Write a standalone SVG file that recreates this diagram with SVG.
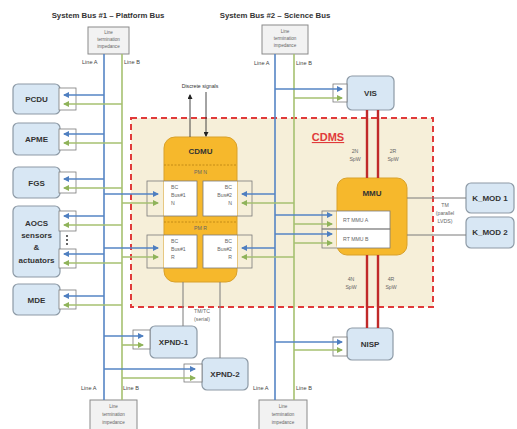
<svg xmlns="http://www.w3.org/2000/svg" width="517" height="429" viewBox="0 0 517 429">
<defs>
<marker id="ab" markerWidth="6" markerHeight="6" refX="5" refY="3" orient="auto" markerUnits="userSpaceOnUse"><path d="M0,0 L6,3 L0,6 z" fill="#4f7fc0"/></marker>
<marker id="ag" markerWidth="6" markerHeight="6" refX="5" refY="3" orient="auto" markerUnits="userSpaceOnUse"><path d="M0,0 L6,3 L0,6 z" fill="#8fb35a"/></marker>
<marker id="ak" markerWidth="5" markerHeight="5" refX="4" refY="2.5" orient="auto" markerUnits="userSpaceOnUse"><path d="M0,0 L5,2.5 L0,5 z" fill="#222"/></marker>
</defs>
<style>
text{font-family:"Liberation Sans",Arial,sans-serif;}
.title{font-size:7.8px;font-weight:bold;fill:#333;text-anchor:middle;}
.node{fill:#d8e7f4;stroke:#8d9aa6;stroke-width:1.2;}
.nl{font-size:8px;font-weight:bold;fill:#333;text-anchor:middle;}
.port{fill:none;stroke:#7a7a7a;stroke-width:0.8;}
.pf{fill:#ffffff;stroke:#7a7a7a;stroke-width:0.8;}
.white{fill:#ffffff;stroke:none;}
.term{fill:#f2f2f2;stroke:#8a8a8a;stroke-width:1;}
.tt{font-size:4.6px;fill:#666;text-anchor:middle;}
.ll{font-size:5.6px;fill:#444;}
.bl{stroke:#5585c5;stroke-width:1.6;fill:none;}
.gl{stroke:#a6c170;stroke-width:1.6;fill:none;}
.gr{stroke:#7a7a7a;stroke-width:1;fill:none;}
.rd{stroke:#c02a2a;stroke-width:2.4;fill:none;}
.unit{fill:#f6b82c;stroke:#d9a12a;stroke-width:1;}
.sm{font-size:5.2px;fill:#666;}
.smc{font-size:5.2px;fill:#666;text-anchor:middle;}
</style>

<!-- CDMS area -->
<g id="cdms">
<rect x="131" y="118" width="302" height="189" fill="#f6efd9" stroke="#e03a3a" stroke-width="2" stroke-dasharray="6,4"/>
<text x="328" y="141" font-size="11" font-weight="bold" fill="#e03a3a" text-anchor="middle" text-decoration="underline">CDMS</text>
</g>

<!-- titles -->
<text class="title" x="108" y="18">System Bus #1 – Platform Bus</text>
<text class="title" x="275" y="18">System Bus #2 – Science Bus</text>

<text class="smc" x="200" y="88" style="fill:#333">Discrete signals</text>
<text class="smc" x="202" y="313">TM/TC</text>
<text class="smc" x="202" y="321">(serial)</text>
<text class="smc" x="355" y="153">2N</text>
<text class="smc" x="355" y="161">SpW</text>
<text class="smc" x="393" y="153">2R</text>
<text class="smc" x="393" y="161">SpW</text>
<text class="smc" x="351" y="281">4N</text>
<text class="smc" x="351" y="289">SpW</text>
<text class="smc" x="391" y="281">4R</text>
<text class="smc" x="391" y="289">SpW</text>
<text class="smc" x="445" y="207">TM</text>
<text class="smc" x="445" y="215">(parallel</text>
<text class="smc" x="445" y="223">LVDS)</text>

<!-- terminations -->
<g id="term1top"><rect class="term" x="88" y="27" width="41" height="27"/><text class="tt" x="108.5" y="34">Line</text><text class="tt" x="108.5" y="41">termination</text><text class="tt" x="108.5" y="48">impedance</text></g>
<g id="term2top"><rect class="term" x="262" y="25" width="46" height="29"/><text class="tt" x="285" y="33">Line</text><text class="tt" x="285" y="40">termination</text><text class="tt" x="285" y="47">impedance</text></g>
<g id="term1bot"><rect class="term" x="90" y="400" width="47" height="32"/><text class="tt" x="113.5" y="408">Line</text><text class="tt" x="113.5" y="416">termination</text><text class="tt" x="113.5" y="424">impedance</text></g>
<g id="term2bot"><rect class="term" x="259" y="400" width="48" height="32"/><text class="tt" x="283" y="408">Line</text><text class="tt" x="283" y="416">termination</text><text class="tt" x="283" y="424">impedance</text></g>
<text class="ll" x="82" y="64">Line A</text><text class="ll" x="124" y="64">Line B</text>
<text class="ll" x="254" y="65">Line A</text><text class="ll" x="296" y="65">Line B</text>
<text class="ll" x="81" y="390">Line A</text><text class="ll" x="123" y="390">Line B</text>
<text class="ll" x="253" y="390">Line A</text><text class="ll" x="296" y="390">Line B</text>

<!-- left nodes -->
<g id="pcdu"><rect class="node" x="13" y="84" width="47" height="30" rx="5"/><rect class="pf" x="59" y="88" width="17" height="22"/><text class="nl" x="36.5" y="102">PCDU</text></g>
<g id="apme"><rect class="node" x="13" y="123" width="47" height="32" rx="5"/><rect class="pf" x="59" y="129" width="17" height="21"/><text class="nl" x="36.5" y="142">APME</text></g>
<g id="fgs"><rect class="node" x="13" y="167" width="47" height="31" rx="5"/><rect class="pf" x="59" y="172" width="17" height="21"/><text class="nl" x="36.5" y="185.5">FGS</text></g>
<g id="aocs"><rect class="node" x="13" y="206" width="47" height="71" rx="5"/><rect class="pf" x="59" y="211" width="17" height="20"/><rect class="pf" x="59" y="249" width="17" height="19"/>
<circle cx="67" cy="236" r="1" fill="#333"/><circle cx="67" cy="240" r="1" fill="#333"/><circle cx="67" cy="244" r="1" fill="#333"/>
<text class="nl" x="36.5" y="226">AOCS</text><text class="nl" x="36.5" y="238" font-size="7.2">sensors</text><text class="nl" x="36.5" y="250">&amp;</text><text class="nl" x="36.5" y="263" font-size="7.2">actuators</text></g>
<g id="mde"><rect class="node" x="13" y="284" width="47" height="31" rx="5"/><rect class="pf" x="59" y="290" width="17" height="19"/><text class="nl" x="36.5" y="303">MDE</text></g>

<!-- XPND -->
<g id="xpnd1"><rect class="node" x="150" y="326" width="47" height="32" rx="5"/><rect class="pf" x="133" y="330" width="17" height="19"/><text class="nl" x="173.5" y="345">XPND-1</text></g>
<g id="xpnd2"><rect class="node" x="202" y="358" width="46" height="32" rx="5"/><rect class="pf" x="184" y="364" width="18" height="18"/><text class="nl" x="225" y="377">XPND-2</text></g>

<!-- CDMU -->
<g id="cdmu">
<rect class="unit" x="164" y="137" width="73" height="145" rx="11"/>
<text class="nl" x="200.5" y="154" font-size="7.4">CDMU</text>
<line x1="164" y1="165" x2="237" y2="165" stroke="#b9800f" stroke-width="0.8" stroke-dasharray="2,1.5"/>
<text class="smc" x="200.5" y="174">PM N</text>
<line x1="164" y1="222" x2="237" y2="222" stroke="#b9800f" stroke-width="0.8" stroke-dasharray="2,1.5"/>
<text class="smc" x="200.5" y="230">PM R</text>
<g id="bc1n"><rect class="white" x="164" y="181" width="33" height="35"/><rect class="port" x="147" y="181" width="50" height="35"/><text class="sm" x="171" y="189">BC</text><text class="sm" x="171" y="197">Bus#1</text><text class="sm" x="171" y="205">N</text></g>
<g id="bc2n"><rect class="white" x="203" y="181" width="34" height="35"/><rect class="port" x="203" y="181" width="49" height="35"/><text class="sm" x="232" y="189" text-anchor="end">BC</text><text class="sm" x="232" y="197" text-anchor="end">Bus#2</text><text class="sm" x="232" y="205" text-anchor="end">N</text></g>
<g id="bc1r"><rect class="white" x="164" y="235" width="33" height="33"/><rect class="port" x="147" y="235" width="50" height="33"/><text class="sm" x="171" y="243">BC</text><text class="sm" x="171" y="251">Bus#1</text><text class="sm" x="171" y="259">R</text></g>
<g id="bc2r"><rect class="white" x="203" y="235" width="34" height="33"/><rect class="port" x="203" y="235" width="49" height="33"/><text class="sm" x="232" y="243" text-anchor="end">BC</text><text class="sm" x="232" y="251" text-anchor="end">Bus#2</text><text class="sm" x="232" y="259" text-anchor="end">R</text></g>
</g>

<!-- MMU -->
<g id="mmu">
<rect class="unit" x="337" y="178" width="70" height="77" rx="10"/>
<text class="nl" x="372" y="196" font-size="7">MMU</text>
<rect class="white" x="337" y="211" width="53" height="37"/>
<rect class="port" x="322" y="211" width="68" height="18"/>
<rect class="port" x="322" y="229" width="68" height="19"/>
<text class="sm" x="343" y="222">RT MMU A</text>
<text class="sm" x="343" y="241">RT MMU B</text>
</g>

<!-- right nodes -->
<g id="vis"><rect class="node" x="347" y="76" width="47" height="34" rx="5"/><rect class="pf" x="333" y="84" width="14" height="18"/><text class="nl" x="370.5" y="96">VIS</text></g>
<g id="nisp"><rect class="node" x="347" y="328" width="46" height="32" rx="5"/><rect class="pf" x="333" y="337" width="14" height="19"/><text class="nl" x="370" y="347">NISP</text></g>
<g id="kmod1"><rect class="node" x="466" y="183" width="48" height="30" rx="5"/><text class="nl" x="490" y="201">K_MOD 1</text></g>
<g id="kmod2"><rect class="node" x="466" y="217" width="48" height="31" rx="5"/><text class="nl" x="490" y="235">K_MOD 2</text></g>

<g id="connectors">
<!-- bus lines -->
<line class="bl" x1="104" y1="54" x2="104" y2="400"/>
<line class="gl" x1="122" y1="54" x2="122" y2="400"/>
<line class="bl" x1="275" y1="54" x2="275" y2="400"/>
<line class="gl" x1="294" y1="54" x2="294" y2="400"/>
<!-- left nodes -->
<line class="bl" x1="104" y1="95" x2="64" y2="95" marker-end="url(#ab)"/>
<line class="gl" x1="122" y1="104" x2="64" y2="104" marker-end="url(#ag)"/>
<line class="bl" x1="104" y1="134" x2="64" y2="134" marker-end="url(#ab)"/>
<line class="gl" x1="122" y1="143" x2="64" y2="143" marker-end="url(#ag)"/>
<line class="bl" x1="104" y1="179" x2="64" y2="179" marker-end="url(#ab)"/>
<line class="gl" x1="122" y1="188" x2="64" y2="188" marker-end="url(#ag)"/>
<line class="bl" x1="104" y1="216" x2="64" y2="216" marker-end="url(#ab)"/>
<line class="gl" x1="122" y1="225" x2="64" y2="225" marker-end="url(#ag)"/>
<line class="bl" x1="104" y1="254" x2="64" y2="254" marker-end="url(#ab)"/>
<line class="gl" x1="122" y1="263" x2="64" y2="263" marker-end="url(#ag)"/>
<line class="bl" x1="104" y1="296" x2="64" y2="296" marker-end="url(#ab)"/>
<line class="gl" x1="122" y1="305" x2="64" y2="305" marker-end="url(#ag)"/>
<!-- XPND -->
<line class="bl" x1="104" y1="336" x2="143" y2="336" marker-end="url(#ab)"/>
<line class="gl" x1="122" y1="345" x2="143" y2="345" marker-end="url(#ag)"/>
<line class="bl" x1="104" y1="369" x2="195" y2="369" marker-end="url(#ab)"/>
<line class="gl" x1="122" y1="378" x2="195" y2="378" marker-end="url(#ag)"/>
<!-- BC bus #1 -->
<line class="bl" x1="104" y1="194" x2="158" y2="194" marker-end="url(#ab)"/>
<line class="gl" x1="122" y1="203" x2="158" y2="203" marker-end="url(#ag)"/>
<line class="bl" x1="104" y1="248" x2="158" y2="248" marker-end="url(#ab)"/>
<line class="gl" x1="122" y1="257" x2="158" y2="257" marker-end="url(#ag)"/>
<!-- BC bus #2 -->
<line class="bl" x1="275" y1="194" x2="242" y2="194" marker-end="url(#ab)"/>
<line class="gl" x1="294" y1="203" x2="242" y2="203" marker-end="url(#ag)"/>
<line class="bl" x1="275" y1="248" x2="242" y2="248" marker-end="url(#ab)"/>
<line class="gl" x1="294" y1="257" x2="242" y2="257" marker-end="url(#ag)"/>
<!-- VIS / MMU / NISP -->
<line class="bl" x1="275" y1="89" x2="342" y2="89" marker-end="url(#ab)"/>
<line class="gl" x1="294" y1="98" x2="342" y2="98" marker-end="url(#ag)"/>
<line class="bl" x1="275" y1="215" x2="332" y2="215" marker-end="url(#ab)"/>
<line class="gl" x1="294" y1="224" x2="332" y2="224" marker-end="url(#ag)"/>
<line class="bl" x1="275" y1="234" x2="332" y2="234" marker-end="url(#ab)"/>
<line class="gl" x1="294" y1="243" x2="332" y2="243" marker-end="url(#ag)"/>
<line class="bl" x1="275" y1="342" x2="342" y2="342" marker-end="url(#ab)"/>
<line class="gl" x1="294" y1="350" x2="342" y2="350" marker-end="url(#ag)"/>
<!-- SpaceWire -->
<line class="rd" x1="367" y1="110" x2="367" y2="178"/>
<line class="rd" x1="378" y1="110" x2="378" y2="178"/>
<line class="rd" x1="367" y1="255" x2="367" y2="328"/>
<line class="rd" x1="378" y1="255" x2="378" y2="328"/>
<!-- TM LVDS -->
<line class="gr" x1="407" y1="198" x2="466" y2="198"/>
<line class="gr" x1="407" y1="235" x2="466" y2="235"/>
<!-- TM/TC serial -->
<line class="gr" x1="183" y1="282" x2="183" y2="326"/>
<line class="gr" x1="220" y1="282" x2="220" y2="358"/>
<!-- discrete signals -->
<line x1="190" y1="137" x2="190" y2="95" stroke="#333" stroke-width="0.9" marker-end="url(#ak)"/>
<line x1="206" y1="92" x2="206" y2="136" stroke="#333" stroke-width="0.9" marker-end="url(#ak)"/>
</g>
</svg>
